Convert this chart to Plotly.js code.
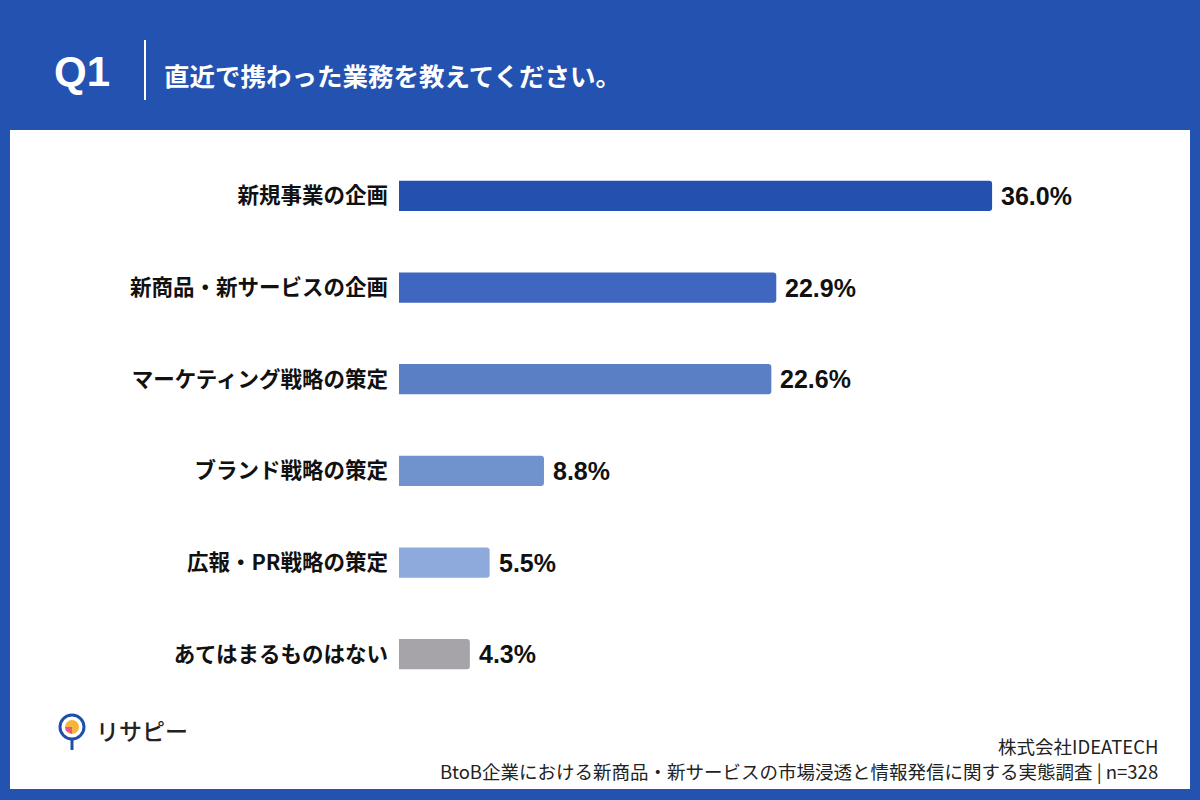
<!DOCTYPE html>
<html><head><meta charset="utf-8">
<script src="https://cdn.plot.ly/plotly-3.0.1.min.js"></script>
<style>html,body{margin:0;padding:0;background:#2352b0;}#chart{width:1200px;height:800px;}</style>
</head><body><div id="chart"></div>
<script>
// ---- data ----
const categories = ["新規事業の企画","新商品・新サービスの企画","マーケティング戦略の策定","ブランド戦略の策定","広報・PR戦略の策定","あてはまるものはない"];
const values = [36.0, 22.9, 22.6, 8.8, 5.5, 4.3];
const barColors = ["#2450b0","#3f67bf","#5a7fc5","#7193cd","#8eaadd","#a7a4a9"];
const questionNo = "Q1";
const questionText = "直近で携わった業務を教えてください。";
const brand = "リサピー";
const company = "株式会社IDEATECH";
const surveyNote = "BtoB企業における新商品・新サービスの市場浸透と情報発信に関する実態調査 | n=328";

// ---- layout geometry ----
const W = 1200, H = 800, mL = 399, mR = 142, mT = 150, mB = 100;
const pw = W - mL - mR, ph = H - mT - mB;
const fx = px => (px - mL) / pw;
const fy = py => (H - mB - py) / ph;
const blue = "#2352b0";
const jp = "'Noto Sans CJK JP', 'Noto Sans', sans-serif";
const num = "'Liberation Sans', Arial, 'Noto Sans CJK JP', sans-serif";

const trace = {
  type: "bar", orientation: "h",
  x: values, y: categories,
  marker: {color: barColors, line: {width: 0}},
  width: 0.33, hoverinfo: "none"
};

const annotations = values.map((v, i) => ({
  x: v, y: categories[i], xref: "x", yref: "y",
  text: v.toFixed(1) + "%", showarrow: false, xanchor: "left", xshift: 7,
  font: {family: num, size: 25, color: "#111", weight: 700}
}));
annotations.push(
  {xref: "paper", yref: "paper", x: fx(52), y: fy(72), xanchor: "left", yanchor: "middle",
   text: questionNo, showarrow: false, font: {family: num, size: 42, color: "#fff", weight: 700}},
  {xref: "paper", yref: "paper", x: fx(162), y: fy(75), xanchor: "left", yanchor: "middle",
   text: questionText, showarrow: false, font: {family: jp, size: 25.5, color: "#fff", weight: 700}},
  {xref: "paper", yref: "paper", x: fx(94), y: fy(730), xanchor: "left", yanchor: "middle",
   text: brand, showarrow: false, font: {family: jp, size: 23, color: "#222", weight: 500}},
  {xref: "paper", yref: "paper", x: fx(1160), y: fy(746), xanchor: "right", yanchor: "middle",
   text: company, showarrow: false, font: {family: jp, size: 18.5, color: "#222"}},
  {xref: "paper", yref: "paper", x: fx(1160), y: fy(771), xanchor: "right", yanchor: "middle",
   text: surveyNote, showarrow: false, font: {family: jp, size: 18.5, color: "#222"}}
);

const shapes = [
  {type: "rect", xref: "paper", yref: "paper", layer: "below",
   x0: fx(10), x1: fx(1190), y0: fy(130), y1: fy(789), fillcolor: "#ffffff", line: {width: 0}},
  {type: "line", xref: "paper", yref: "paper", x0: fx(145), x1: fx(145), y0: fy(40), y1: fy(100),
   line: {color: "#ffffff", width: 2}},
  // logo pin
  {type: "line", xref: "paper", yref: "paper", x0: fx(72), x1: fx(72), y0: fy(738), y1: fy(750),
   line: {color: "#1f4fa8", width: 3}},
  {type: "circle", xref: "paper", yref: "paper", x0: fx(60), x1: fx(84), y0: fy(715), y1: fy(739),
   fillcolor: "#ffffff", line: {color: "#1f4fa8", width: 3}},
  {type: "circle", xref: "paper", yref: "paper", x0: fx(65), x1: fx(79), y0: fy(720), y1: fy(734),
   fillcolor: "#f5b63a", line: {width: 0}},
  {type: "path", xref: "paper", yref: "paper",
   path: `M ${fx(72)},${fy(727)} L ${fx(72)},${fy(720)} A 1 1 0 0 1 ${fx(79)},${fy(727)} Z`,
   fillcolor: "#2d3f8a", line: {width: 0}},
  {type: "path", xref: "paper", yref: "paper",
   path: `M ${fx(72)},${fy(727)} L ${fx(65)},${fy(727)} L ${fx(66)},${fy(731)} L ${fx(72)},${fy(734)} Z`,
   fillcolor: "#e8578a", line: {width: 0}}
];

const layout = {
  width: W, height: H,
  margin: {l: mL, r: mR, t: mT, b: mB, pad: 0},
  paper_bgcolor: blue, plot_bgcolor: "#ffffff",
  showlegend: false, barcornerradius: 3,
  xaxis: {range: [0, 40], visible: false, fixedrange: true},
  yaxis: {autorange: "reversed", showgrid: false, zeroline: false, showline: false, ticks: "",
          ticklabelstandoff: 10,
          tickfont: {family: jp, size: 21.5, color: "#111", weight: 700}, fixedrange: true},
  annotations: annotations, shapes: shapes
};

Plotly.newPlot("chart", [trace], layout, {displayModeBar: false, staticPlot: true});
</script></body></html>
